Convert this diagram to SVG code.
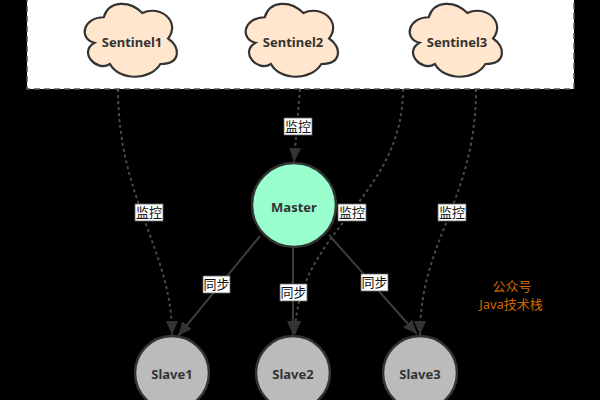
<svg xmlns="http://www.w3.org/2000/svg" xmlns:xlink="http://www.w3.org/1999/xlink" width="600" height="400" viewBox="0 0 600 400">
<style>
.cloud{fill:#FFE6CC;stroke:#333;stroke-width:2.2}
.ntext{font-family:"Noto Sans","Open Sans","Noto Sans CJK SC",sans-serif;font-weight:bold;font-size:13px;fill:#333;text-anchor:middle}
.master{fill:#99FFCC;stroke:#333;stroke-width:2.5}
.slave{fill:#BBBBBB;stroke:#333;stroke-width:2.5}
.dash{fill:none;stroke:#4a4a4a;stroke-width:2;stroke-dasharray:3 3}
.solid{fill:none;stroke:#3c3c3c;stroke-width:2}
.lbox{fill:#fff;stroke:#666;stroke-width:0.8}
.ltext{font-family:"Noto Sans CJK SC",sans-serif;font-size:13px;fill:#111;text-anchor:middle}
.note{font-family:"Noto Sans","Noto Sans CJK SC",sans-serif;font-size:13px;fill:#CC6600;text-anchor:middle}
</style>
<defs>
<path id="cloud" d="M25.75 21.25 C5.15 21.25 0 42.5 16.48 46.75 C0 56.1 18.54 76.5 31.93 68 C41.2 85 72.1 85 82.4 68 C103 68 103 51 90.125 42.5 C103 25.5 82.4 8.5 64.375 17 C51.5 4.25 30.9 4.25 25.75 21.25 Z"/>
<marker id="arr" viewBox="0 0 14 12" refX="14" refY="6" markerWidth="14" markerHeight="12" markerUnits="userSpaceOnUse" orient="auto">
<path d="M0 0 L14 6 L0 12 Z" fill="#333"/>
</marker>
</defs>
<rect x="0" y="0" width="600" height="400" fill="#000"/>
<rect id="sentinel-group" x="27" y="-10" width="547" height="99" fill="#fff" stroke="#555" stroke-width="1.5" stroke-dasharray="6 4"/>

<g id="connectors">
<path class="dash" d="M118 89 C118 200 172 250 172 335" marker-end="url(#arr)"/>
<path class="dash" d="M300 89 L294 162" marker-end="url(#arr)"/>
<path class="dash" d="M403 89 C403 200 296 230 295 335" marker-end="url(#arr)"/>
<path class="dash" d="M476 89 C476 200 420 240 420 335" marker-end="url(#arr)"/>
<path class="solid" d="M260 236 L178 336" marker-end="url(#arr)"/>
<path class="solid" d="M293 247 L293 335" marker-end="url(#arr)"/>
<path class="solid" d="M329 235 L417 334" marker-end="url(#arr)"/>
<g>
<rect class="lbox" x="284" y="118" width="28" height="17"/><text class="ltext" x="298" y="131">监控</text>
<rect class="lbox" x="135" y="204" width="28" height="17"/><text class="ltext" x="149" y="217">监控</text>
<rect class="lbox" x="338" y="204" width="28" height="17"/><text class="ltext" x="352" y="217">监控</text>
<rect class="lbox" x="438" y="204" width="28" height="17"/><text class="ltext" x="452" y="217">监控</text>
<rect class="lbox" x="203" y="276" width="27" height="17"/><text class="ltext" x="216.5" y="289">同步</text>
<rect class="lbox" x="280" y="284" width="27" height="17"/><text class="ltext" x="293.5" y="297">同步</text>
<rect class="lbox" x="361" y="274" width="27" height="17"/><text class="ltext" x="374.5" y="287">同步</text>
</g>
</g>

<g id="sentinel1"><use xlink:href="#cloud" class="cloud" x="78" y="-4"/><text class="ntext" x="132" y="47">Sentinel1</text></g>
<g id="sentinel2"><use xlink:href="#cloud" class="cloud" x="239" y="-4"/><text class="ntext" x="293" y="47">Sentinel2</text></g>
<g id="sentinel3"><use xlink:href="#cloud" class="cloud" x="403" y="-4"/><text class="ntext" x="457" y="47">Sentinel3</text></g>

<g id="master"><circle class="master" cx="294" cy="205" r="42"/><text class="ntext" x="294" y="212">Master</text></g>
<g id="slave1"><circle class="slave" cx="172" cy="373" r="37"/><text class="ntext" x="172" y="379">Slave1</text></g>
<g id="slave2"><circle class="slave" cx="293" cy="373" r="37"/><text class="ntext" x="293" y="379">Slave2</text></g>
<g id="slave3"><circle class="slave" cx="420" cy="373" r="37"/><text class="ntext" x="420" y="379">Slave3</text></g>

<g id="note">
<text class="note" x="512" y="291">公众号</text>
<text class="note" x="511" y="309">Java技术栈</text>
</g>
</svg>
